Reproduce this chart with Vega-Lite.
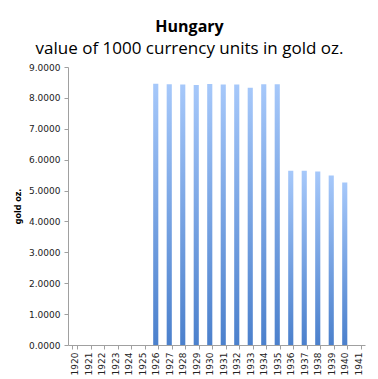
{
  "$schema": "https://vega.github.io/schema/vega-lite/v6.json",
  "width": 297,
  "height": 278,
  "autosize": {"type": "none"},
  "padding": {"left": 68, "top": 67, "right": 13, "bottom": 34},
  "background": "white",
  "title": {
    "text": "Hungary",
    "subtitle": "value of 1000 currency units in gold oz.",
    "anchor": "middle",
    "dx": -27,
    "offset": 6,
    "font": "Open Sans",
    "fontSize": 16,
    "fontWeight": "bold",
    "color": "black",
    "subtitleFont": "Open Sans",
    "subtitleFontSize": 17,
    "subtitleColor": "black",
    "subtitlePadding": 6
  },
  "data": {
    "values": [
      {"year": "1920", "value": null},
      {"year": "1921", "value": null},
      {"year": "1922", "value": null},
      {"year": "1923", "value": null},
      {"year": "1924", "value": null},
      {"year": "1925", "value": null},
      {"year": "1926", "value": 8.46},
      {"year": "1927", "value": 8.44},
      {"year": "1928", "value": 8.43},
      {"year": "1929", "value": 8.42},
      {"year": "1930", "value": 8.45},
      {"year": "1931", "value": 8.43},
      {"year": "1932", "value": 8.43},
      {"year": "1933", "value": 8.33},
      {"year": "1934", "value": 8.44},
      {"year": "1935", "value": 8.44},
      {"year": "1936", "value": 5.64},
      {"year": "1937", "value": 5.64},
      {"year": "1938", "value": 5.62},
      {"year": "1939", "value": 5.49},
      {"year": "1940", "value": 5.26},
      {"year": "1941", "value": null}
    ]
  },
  "mark": {
    "type": "bar",
    "color": {
      "gradient": "linear",
      "x1": 0, "y1": 0, "x2": 0, "y2": 1,
      "stops": [
        {"offset": 0, "color": "#a6c8fa"},
        {"offset": 1, "color": "#4b80cc"}
      ]
    }
  },
  "encoding": {
    "x": {
      "field": "year",
      "type": "ordinal",
      "scale": {
        "domain": ["1920","1921","1922","1923","1924","1925","1926","1927","1928","1929","1930","1931","1932","1933","1934","1935","1936","1937","1938","1939","1940","1941"],
        "paddingInner": 0.62, "paddingOuter": 0.31
      },
      "axis": {
        "title": null,
        "labelAngle": -90,
        "labelFont": "DejaVu Sans",
        "labelFontSize": 9,
        "labelColor": "#222222",
        "labelPadding": 3,
        "domainColor": "#a0a0a0",
        "tickColor": "#a0a0a0",
        "tickSize": 4,
        "tickBand": "extent"
      }
    },
    "y": {
      "field": "value",
      "type": "quantitative",
      "scale": {"domain": [0, 9], "nice": false},
      "axis": {
        "title": "gold oz.",
        "titleFont": "DejaVu Sans",
        "titleFontSize": 8,
        "titleFontWeight": "bold",
        "titleColor": "black",
        "titlePadding": 6,
        "values": [0, 1, 2, 3, 4, 5, 6, 7, 8, 9],
        "format": ".4f",
        "labelFont": "DejaVu Sans",
        "labelFontSize": 9,
        "labelColor": "#222222",
        "labelPadding": 4,
        "grid": false,
        "domainColor": "#a0a0a0",
        "tickColor": "#a0a0a0",
        "tickSize": 4
      }
    }
  },
  "config": {"view": {"stroke": null}}
}
